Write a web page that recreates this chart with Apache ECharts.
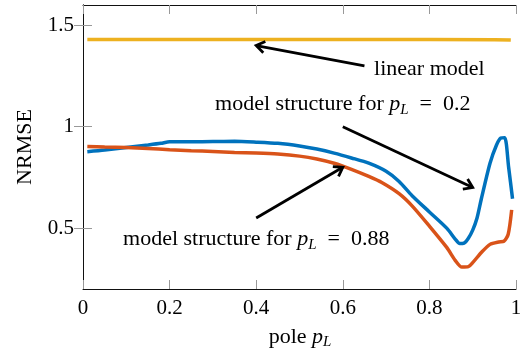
<!DOCTYPE html>
<html>
<head>
<meta charset="utf-8">
<script src="https://cdn.jsdelivr.net/npm/echarts@6/dist/echarts.min.js"></script>
<style>
html, body { margin: 0; padding: 0; background: #fff; }
#chart { width: 528px; height: 354px; }
</style>
</head>
<body>
<div id="chart"></div>
<script>
// pole values and NRMSE
const poleBlue = [0.01, 0.05, 0.1, 0.15, 0.18, 0.2, 0.25, 0.3, 0.35, 0.4, 0.45, 0.5, 0.54, 0.58, 0.62, 0.66, 0.7, 0.73, 0.76, 0.8, 0.84, 0.86, 0.87, 0.88, 0.89, 0.9, 0.91, 0.92, 0.94, 0.955, 0.965, 0.974, 0.983, 0.992];
const nrmseBlue = [0.877, 0.885, 0.898, 0.91, 0.918, 0.926, 0.926, 0.927, 0.928, 0.924, 0.918, 0.905, 0.89, 0.87, 0.846, 0.82, 0.78, 0.73, 0.66, 0.58, 0.5, 0.445, 0.424, 0.426, 0.45, 0.49, 0.55, 0.645, 0.82, 0.91, 0.944, 0.946, 0.8, 0.645];

const poleOrange = [0.01, 0.05, 0.1, 0.15, 0.2, 0.25, 0.3, 0.35, 0.4, 0.45, 0.5, 0.54, 0.58, 0.62, 0.66, 0.69, 0.73, 0.76, 0.8, 0.84, 0.86, 0.875, 0.89, 0.9, 0.92, 0.94, 0.96, 0.972, 0.982, 0.99];
const nrmseOrange = [0.903, 0.9, 0.897, 0.893, 0.887, 0.882, 0.878, 0.873, 0.87, 0.865, 0.855, 0.841, 0.82, 0.79, 0.755, 0.725, 0.67, 0.61, 0.51, 0.405, 0.34, 0.308, 0.31, 0.33, 0.38, 0.42, 0.432, 0.435, 0.47, 0.59];

const poleLinear = [0.01, 0.2, 0.4, 0.6, 0.8, 0.95, 0.988];
const nrmseLinear = [1.43, 1.43, 1.43, 1.43, 1.43, 1.429, 1.427];

const xTicks = [0, 0.2, 0.4, 0.6, 0.8, 1];
const yTicks = [0.5, 1, 1.5];

const zip = (xs, ys) => xs.map((x, i) => [x, ys[i]]);

const serif = "'Liberation Serif', 'DejaVu Serif', serif";
const fs = 22;
const rich = {
  n: { fontFamily: serif, fontSize: fs, lineHeight: 26, color: '#000' },
  i: { fontFamily: serif, fontSize: fs, fontStyle: 'italic', lineHeight: 26, color: '#000' },
  s: { fontFamily: serif, fontSize: 15, fontStyle: 'italic', lineHeight: 13, verticalAlign: 'bottom', color: '#000' }
};
const eq = '\u2002=\u2002';

const chart = echarts.init(document.getElementById('chart'), null, { renderer: 'canvas' });

const tickStyle = { show: true, inside: true, length: 9, lineStyle: { color: '#999', width: 1 } };
const lineAxis = { show: true, lineStyle: { color: '#111', width: 1 } };

chart.setOption({
  animation: false,
  backgroundColor: '#fff',
  grid: { left: 83, right: 12, top: 5, bottom: 65, containLabel: false },
  xAxis: [
    {
      type: 'value', min: 0, max: 1, interval: 0.2,
      axisLine: lineAxis, axisTick: tickStyle, splitLine: { show: false },
      axisLabel: { fontFamily: serif, fontSize: 21, color: '#000', margin: 9, formatter: v => String(+v.toFixed(1)) }
    },
    {
      type: 'value', position: 'top', min: 0, max: 1, interval: 0.2,
      axisLine: lineAxis, axisTick: tickStyle, splitLine: { show: false }, axisLabel: { show: false }
    }
  ],
  yAxis: [
    {
      type: 'value', min: 0.2, max: 1.6, interval: 0.1,
      axisLine: lineAxis, splitLine: { show: false },
      axisTick: Object.assign({}, tickStyle, { customValues: yTicks }),
      axisLabel: { customValues: yTicks, fontFamily: serif, fontSize: 21, color: '#000', margin: 9, formatter: v => String(+v.toFixed(1)) }
    },
    {
      type: 'value', position: 'right', min: 0.2, max: 1.6, interval: 0.1,
      axisLine: lineAxis, splitLine: { show: false },
      axisTick: Object.assign({}, tickStyle, { customValues: yTicks }),
      axisLabel: { show: false }
    }
  ],
  series: [
    { type: 'line', data: zip(poleBlue, nrmseBlue), showSymbol: false, smooth: 0.25, lineStyle: { color: '#0072BD', width: 3.5 }, itemStyle: { color: '#0072BD' } },
    { type: 'line', data: zip(poleOrange, nrmseOrange), showSymbol: false, smooth: 0.25, lineStyle: { color: '#D95319', width: 3.5 }, itemStyle: { color: '#D95319' } },
    { type: 'line', data: zip(poleLinear, nrmseLinear), showSymbol: false, lineStyle: { color: '#EDB120', width: 3.5 }, itemStyle: { color: '#EDB120' } }
  ]
});

// annotations (data coordinates)
const arrows = [
  { from: [0.65, 1.30], to: [0.40, 1.40] },
  { from: [0.60, 1.00], to: [0.90, 0.70] },
  { from: [0.40, 0.55], to: [0.60, 0.80] }
];
const notes = [
  { at: [0.80, 1.285], text: '{n|linear model}' },
  { at: [0.60, 1.11], text: '{n|model structure for }{i|p}{s|L}{n|' + eq + '0.2}' },
  { at: [0.40, 0.445], text: '{n|model structure for }{i|p}{s|L}{n|' + eq + '0.88}' }
];

const px = p => chart.convertToPixel({ gridIndex: 0 }, p);
const graphics = [];
arrows.forEach(a => {
  const f = px(a.from), t = px(a.to);
  const ang = Math.atan2(t[1] - f[1], t[0] - f[0]);
  const L = 10, spread = 0.6;
  const h1 = [t[0] - L * Math.cos(ang - spread), t[1] - L * Math.sin(ang - spread)];
  const h2 = [t[0] - L * Math.cos(ang + spread), t[1] - L * Math.sin(ang + spread)];
  graphics.push({ type: 'polyline', shape: { points: [f, t] }, style: { stroke: '#000', lineWidth: 2.8, fill: null }, z: 10 });
  graphics.push({ type: 'polyline', shape: { points: [h1, t, h2] }, style: { stroke: '#000', lineWidth: 2.8, fill: null, lineJoin: 'miter' }, z: 10 });
});
notes.forEach(n => {
  const p = px(n.at);
  graphics.push({ type: 'text', x: p[0], y: p[1], z: 10, style: { text: n.text, rich: rich, align: 'center', verticalAlign: 'middle' } });
});
// axis titles
graphics.push({ type: 'text', x: 300, y: 337, style: { text: '{n|pole }{i|p}{s|L}', rich: rich, align: 'center', verticalAlign: 'middle' } });
graphics.push({ type: 'text', x: 25, y: 147, rotation: Math.PI / 2, style: { text: '{n|NRMSE}', rich: rich, align: 'center', verticalAlign: 'middle' } });

chart.setOption({ graphic: graphics });
</script>
</body>
</html>
